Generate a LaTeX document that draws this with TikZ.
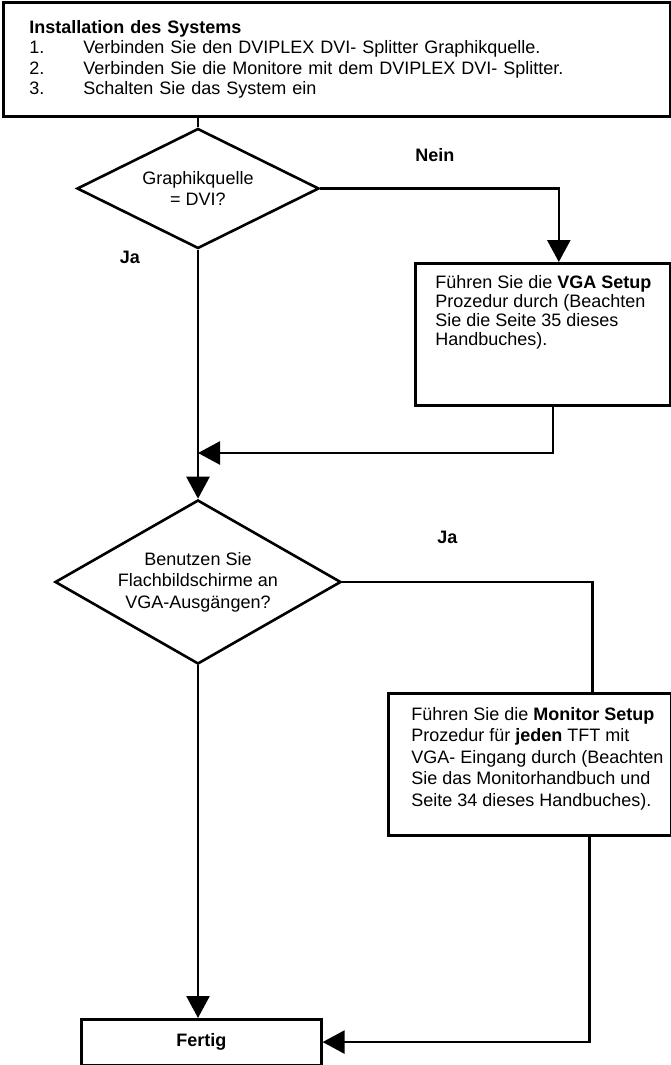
\documentclass[tikz,border=0pt]{standalone}
\usepackage{fontspec}
\setmainfont{Liberation Sans}
\usetikzlibrary{arrows.meta,shapes.geometric,positioning}
\tikzset{
  chart/.style={
    x=1pt,y=-1pt,line width=2.6pt,
    every node/.style={font=\fontsize{18pt}{20.5pt}\selectfont}
  },
  stepbox/.style={draw,rectangle,line width=2.6pt,inner xsep=20pt,inner ysep=12pt,anchor=north west},
  decision/.style={draw,diamond,line width=2.6pt,inner sep=0pt,align=center},
  answer/.style={font=\fontsize{18pt}{20.5pt}\selectfont\bfseries},
  flow/.style={-{Triangle[length=22pt,width=23pt]}}
}

\begin{document}
\begin{tikzpicture}[chart]
  \useasboundingbox (0,0) rectangle (671,1065);
  \node[stepbox,minimum width=667pt,minimum height=114pt,text width=615pt,inner xsep=0pt,inner ysep=0pt,align=left] (install) at (2,1)
    {\textbf{Installation des Systems}\\
     \makebox[54pt][l]{1.}Verbinden Sie den DVIPLEX DVI- Splitter Graphikquelle.\\
     \makebox[54pt][l]{2.}Verbinden Sie die Monitore mit dem DVIPLEX DVI- Splitter.\\
     \makebox[54pt][l]{3.}Schalten Sie das System ein};
  \node[decision,minimum width=242pt,minimum height=120pt,aspect=2] (dvi) at (198,188.5) {Graphikquelle\\= DVI?};
  \node[stepbox,minimum width=255pt,minimum height=142pt] (vga) at (414,262)
    {\parbox[t][118pt][t]{215pt}{\fontsize{18pt}{19pt}\selectfont
     \begin{tabular}[t]{@{}l@{}}
       Führen Sie die \textbf{VGA Setup}\\
       Prozedur durch (Beachten\\
       Sie die Seite 35 dieses\\
       Handbuches).
     \end{tabular}}};
  \node[decision,minimum width=286pt,minimum height=164pt,aspect=1.74,font=\fontsize{18pt}{21.5pt}\selectfont] (flat) at (198,582)
    {Benutzen Sie\\Flachbildschirme an\\VGA-Ausgängen?};
  \node[stepbox,inner xsep=23pt,minimum width=282.5pt,minimum height=142pt] (monitor) at (387,692)
    {\parbox[t][118pt][t]{236.5pt}{\fontsize{18pt}{21.5pt}\selectfont
     \begin{tabular}[t]{@{}l@{}}
       Führen Sie die \textbf{Monitor Setup}\\
       Prozedur für \textbf{jeden} TFT mit\\
       VGA- Eingang durch (Beachten\\
       Sie das Monitorhandbuch und\\
       Seite 34 dieses Handbuches).
     \end{tabular}}};
  \node[stepbox,inner sep=0pt,minimum width=240pt,minimum height=45.5pt,font=\fontsize{18pt}{20.5pt}\selectfont\bfseries] (fertig) at (80,1018) {Fertig};
  \coordinate (merge) at (198,453);
  \draw (dvi.north |- install.south) -- (dvi.north);
  \draw[flow] (dvi.east) -| node[answer,pos=0.24,yshift=33pt] {Nein} ([xshift=16pt]vga.north);
  \draw[flow] (dvi.south) -- node[answer,pos=0.03,xshift=-68pt] {Ja} (flat.north);
  \draw[flow] ([xshift=10pt]vga.south) |- (merge);
  \draw (flat.east) -| node[answer,pos=0.21,yshift=45pt] {Ja} ([xshift=63pt]monitor.north);
  \draw[flow] (flat.south) -- (flat.south |- fertig.north);
  \draw[flow] ([xshift=60pt]monitor.south) |- (fertig.east);
\end{tikzpicture}
\end{document}
